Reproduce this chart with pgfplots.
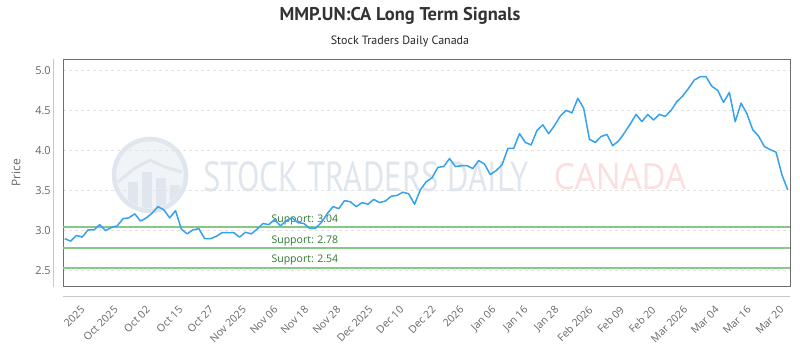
\documentclass[border=0pt]{standalone}
\usepackage{fontspec}
\usepackage{graphicx}
\usepackage{pgfplots}
\pgfplotsset{compat=1.18}
\setmainfont{Open Sans}
\newfontfamily\titlefont{PT Sans}

\definecolor{priceblue}{RGB}{54,162,235}
\definecolor{supportline}{RGB}{135,200,135}
\definecolor{supporttext}{RGB}{45,120,45}
\definecolor{ticktext}{RGB}{102,102,102}
\definecolor{gridgray}{RGB}{226,226,226}
\definecolor{framegray}{RGB}{110,110,110}
\definecolor{outergray}{RGB}{200,200,200}
\definecolor{wmblue}{RGB}{224,230,238}
\definecolor{wmpink}{RGB}{252,222,222}

% daily closing prices, one row per session
\pgfplotstableread{
idx price
0 2.90
1 2.87
2 2.94
3 2.92
4 3.01
5 3.01
6 3.075
7 3.00
8 3.04
9 3.06
10 3.15
11 3.16
12 3.21
13 3.12
14 3.16
15 3.22
16 3.30
17 3.26
18 3.16
19 3.25
20 3.02
21 2.96
22 3.01
23 3.025
24 2.90
25 2.90
26 2.93
27 2.975
28 2.975
29 2.975
30 2.92
31 2.98
32 2.96
33 3.02
34 3.09
35 3.075
36 3.14
37 3.06
38 3.125
39 3.16
40 3.10
41 3.09
42 3.03
43 3.03
44 3.10
45 3.21
46 3.30
47 3.275
48 3.375
49 3.36
50 3.30
51 3.35
52 3.33
53 3.39
54 3.35
55 3.37
56 3.43
57 3.44
58 3.48
59 3.46
60 3.33
61 3.51
62 3.61
63 3.66
64 3.79
65 3.80
66 3.90
67 3.80
68 3.81
69 3.81
70 3.775
71 3.875
72 3.83
73 3.70
74 3.75
75 3.82
76 4.025
77 4.025
78 4.21
79 4.10
80 4.07
81 4.25
82 4.32
83 4.21
84 4.31
85 4.43
86 4.50
87 4.47
88 4.65
89 4.53
90 4.14
91 4.10
92 4.175
93 4.20
94 4.06
95 4.12
96 4.22
97 4.33
98 4.45
99 4.36
100 4.45
101 4.38
102 4.45
103 4.425
104 4.50
105 4.61
106 4.68
107 4.775
108 4.88
109 4.92
110 4.92
111 4.80
112 4.75
113 4.60
114 4.725
115 4.36
116 4.59
117 4.46
118 4.26
119 4.18
120 4.05
121 4.01
122 3.98
123 3.70
124 3.51
}\pricedata

\begin{document}
\begin{tikzpicture}
\useasboundingbox[fill=white] (0,0) rectangle (800pt,350pt);

% titles
\node[font=\titlefont\bfseries\fontsize{18.5}{20}\selectfont, text=black!80] at (400pt,334pt) {MMP.UN:CA Long Term Signals};
\node[font=\titlefont\fontsize{12}{14}\selectfont, text=black!85] at (400pt,309pt) {Stock Traders Daily Canada};

% watermark
\begin{scope}
  \fill[wmblue!45] (150pt,175pt) circle (35pt);
  \draw[wmblue, line width=4.5pt] (150pt,175pt) circle (36pt);
  \clip (150pt,175pt) circle (33pt);
  \fill[wmblue] (128pt,140pt) rectangle (138pt,168pt);
  \fill[wmblue] (142pt,140pt) rectangle (152pt,178pt);
  \fill[wmblue] (156pt,140pt) rectangle (166pt,172pt);
  \fill[wmblue] (170pt,140pt) rectangle (180pt,165pt);
  \draw[wmblue, line width=3pt] (118pt,168pt) -- (135pt,182pt) -- (150pt,190pt) -- (165pt,183pt) -- (182pt,178pt);
\end{scope}
\node[text=wmblue, font=\titlefont\fontsize{42}{42}\selectfont] at (366pt,173pt) {\scalebox{0.78}[1]{STOCK TRADERS DAILY}};
\node[text=wmpink, font=\fontsize{36}{36}\selectfont] at (620pt,173pt) {\scalebox{0.92}[1]{CANADA}};

% outer axis rules
\draw[outergray, line width=0.8pt] (53pt,291pt) -- (53pt,63pt);
\draw[outergray, line width=0.8pt] (63pt,54pt) -- (790pt,54pt);

\begin{axis}[
  at={(63.3pt,64pt)}, anchor=south west,
  scale only axis, width=726.7pt, height=226.7pt,
  xmin=-0.25, xmax=124.4,
  ymin=2.31, ymax=5.1375,
  axis line style={framegray, line width=0.9pt},
  major tick length=0pt,
  ytick={2.5,3.0,3.5,4.0,4.5,5.0},
  yticklabel style={/pgf/number format/fixed, /pgf/number format/fixed zerofill, /pgf/number format/precision=1, /pgf/number format/assume math mode=true, font=\fontsize{11}{13}\selectfont, text=ticktext, xshift=-9pt},
  ymajorgrids,
  grid style={gridgray, dash pattern=on 3pt off 3pt, line width=0.6pt},
  xtick={3.3,9.0,14.5,20.1,25.4,31.0,36.4,41.7,47.2,52.7,58.0,63.5,68.3,73.8,79.3,84.6,90.4,95.8,101.2,106.7,112.1,117.6,123.2},
  xticklabels={2025,Oct 2025,Oct 02,Oct 15,Oct 27,Nov 2025,Nov 06,Nov 18,Nov 28,Dec 2025,Dec 10,Dec 22,2026,Jan 06,Jan 16,Jan 28,Feb 2026,Feb 09,Feb 20,Mar 2026,Mar 04,Mar 16,Mar 20},
  xticklabel style={yshift=-19pt, xshift=-4pt, rotate=45, anchor=north east, inner sep=0pt, font=\fontsize{10.5}{12}\selectfont, text=ticktext},
  ylabel={Price},
  ylabel style={at={(axis description cs:-0.065,0.5)}, anchor=center, font=\fontsize{12}{14}\selectfont, text=ticktext},
  clip=false,
]
% support levels
\addplot[supportline, line width=2pt, forget plot] coordinates {(-0.25,3.04) (124.4,3.04)};
\addplot[supportline, line width=2pt, forget plot] coordinates {(-0.25,2.78) (124.4,2.78)};
\addplot[supportline, line width=2pt, forget plot] coordinates {(-0.25,2.54) (124.4,2.54)};
\node[anchor=south west, text=supporttext, font=\fontsize{10.5}{12}\selectfont, inner sep=2pt] at (axis cs:35.1,3.04) {Support: 3.04};
\node[anchor=south west, text=supporttext, font=\fontsize{10.5}{12}\selectfont, inner sep=2pt] at (axis cs:35.1,2.78) {Support: 2.78};
\node[anchor=south west, text=supporttext, font=\fontsize{10.5}{12}\selectfont, inner sep=2pt] at (axis cs:35.1,2.54) {Support: 2.54};
% price
\addplot[priceblue, line width=1.5pt, mark=none, line join=round] table[x=idx, y=price] {\pricedata};
\end{axis}
\end{tikzpicture}
\end{document}
